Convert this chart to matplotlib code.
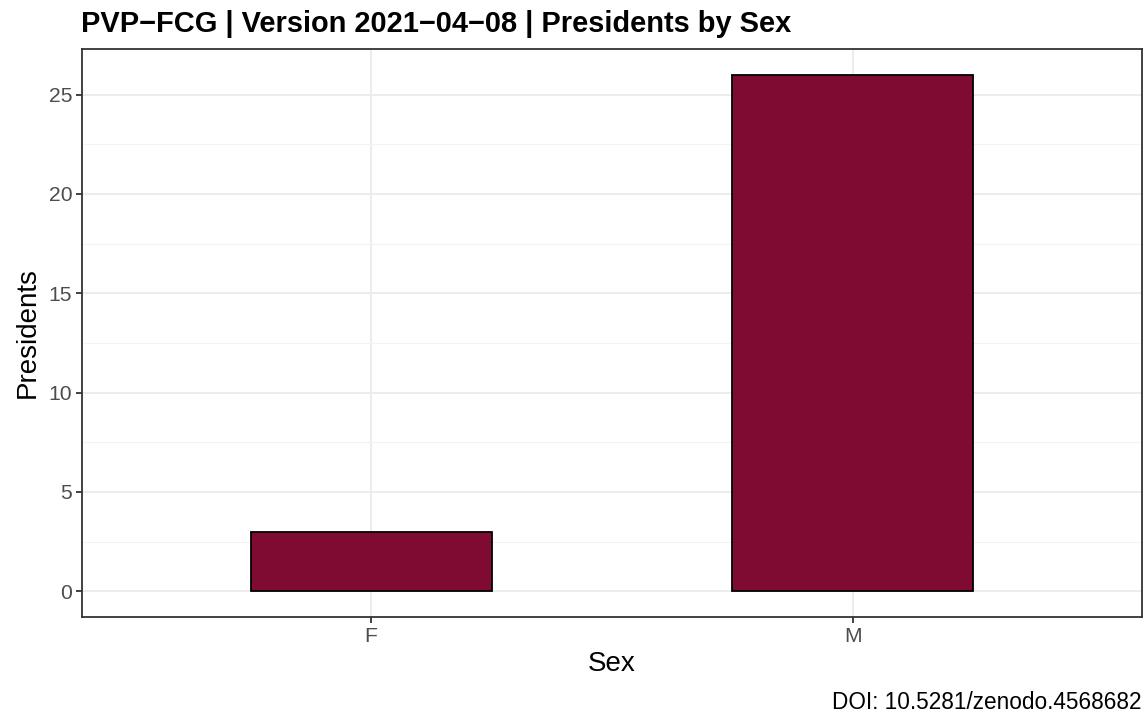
import matplotlib
matplotlib.use('Agg')
import matplotlib.pyplot as plt
from matplotlib.ticker import MultipleLocator

plt.rcParams['font.family'] = ['Liberation Sans', 'DejaVu Sans']

# data
sexes = ['F', 'M']
presidents = [3, 26]

title = 'PVP\u2212FCG | Version 2021\u221204\u221208 | Presidents by Sex'
caption = 'DOI: 10.5281/zenodo.4568682'

W, H = 1148, 716
fig = plt.figure(figsize=(W / 100, H / 100), dpi=100)
# panel box in pixels: left 82, right 1142, top 49, bottom 617
ax = fig.add_axes([82 / W, (H - 617) / H, (1142 - 82) / W, (617 - 49) / H])

xpos = list(range(1, len(sexes) + 1))
ax.bar(xpos, presidents, width=0.5, color='#7F0A32', edgecolor='black', linewidth=1.3, zorder=3)

ax.set_xlim(0.4, len(sexes) + 0.6)
ymax = max(presidents)
ax.set_ylim(-0.05 * ymax, ymax * 1.05)
ax.set_xticks(xpos)
ax.set_xticklabels(sexes)
ax.yaxis.set_major_locator(MultipleLocator(5))
ax.yaxis.set_minor_locator(MultipleLocator(2.5))
ax.xaxis.set_minor_locator(plt.NullLocator())

ax.grid(which='major', color='#EBEBEB', linewidth=1.3, zorder=0)
ax.grid(which='minor', axis='y', color='#F3F3F3', linewidth=0.8, zorder=0)
ax.set_axisbelow(True)
for s in ax.spines.values():
    s.set_color('#333333')
    s.set_linewidth(1.3)
ax.tick_params(which='major', length=4, width=1.3, color='#333333', labelcolor='#4D4D4D', labelsize=15.2, pad=3)
ax.tick_params(which='minor', length=0)

ax.set_xlabel('Sex', fontsize=20, labelpad=4)
ax.set_ylabel('Presidents', fontsize=20, labelpad=6)
fig.text(81 / W, 1 - 32 / H, title, fontsize=20.9, fontweight='bold', ha='left', va='baseline')
fig.text(1142 / W, 1 - 709 / H, caption, fontsize=16.3, ha='right', va='baseline')

fig.savefig('out.png', dpi=100)
